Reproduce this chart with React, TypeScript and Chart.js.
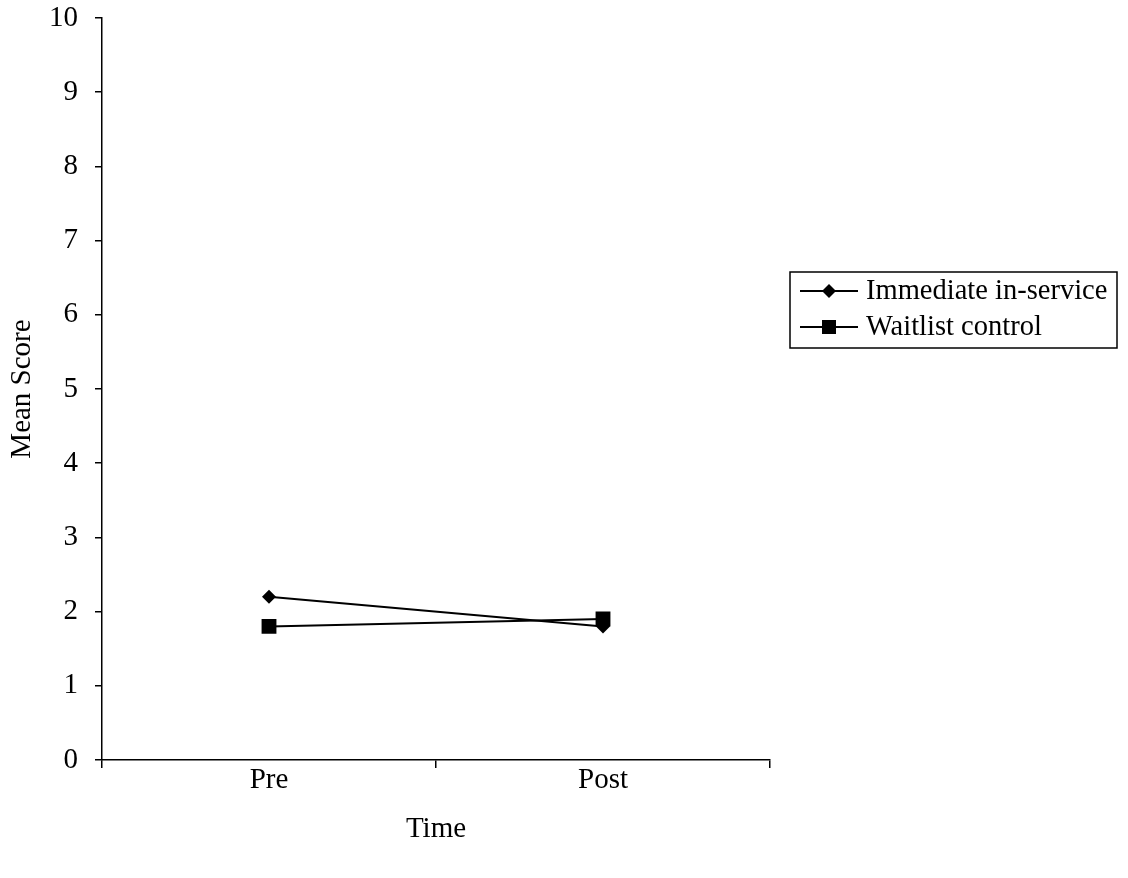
import React, { useEffect, useRef } from "react";
import { Chart, registerables } from "chart.js";

Chart.register(...registerables);

const categories = ["Pre", "Post"];
const immediateValues = [2.2, 1.8];
const waitlistValues = [1.8, 1.9];
const seriesLabels = ["Immediate in-service", "Waitlist control"];
const yTicks = [0, 1, 2, 3, 4, 5, 6, 7, 8, 9, 10];

const FONT = "'Liberation Serif', 'Times New Roman', serif";
const FS = 29;

const boxLegend = {
  id: "boxLegend",
  afterDraw(chart: any) {
    const ctx = chart.ctx;
    const x0 = 790, y0 = 272, x1 = 1117, y1 = 348;
    ctx.save();
    ctx.strokeStyle = "#000";
    ctx.lineWidth = 1.5;
    ctx.strokeRect(x0, y0, x1 - x0, y1 - y0);
    ctx.font = `28.5px ${FONT}`;
    ctx.fillStyle = "#000";
    ctx.textBaseline = "middle";
    ctx.textAlign = "left";
    const rows = [291, 327];
    chart.data.datasets.forEach((ds: any, i: number) => {
      const y = rows[i];
      ctx.beginPath();
      ctx.lineWidth = 2;
      ctx.moveTo(800, y);
      ctx.lineTo(858, y);
      ctx.stroke();
      ctx.beginPath();
      if (ds.pointStyle === "rectRot") {
        const r = 7;
        ctx.moveTo(829, y - r);
        ctx.lineTo(829 + r, y);
        ctx.lineTo(829, y + r);
        ctx.lineTo(829 - r, y);
        ctx.closePath();
      } else {
        const s = 7;
        ctx.rect(829 - s, y - s, 2 * s, 2 * s);
      }
      ctx.fill();
      ctx.fillText(ds.label, 866, y + 1);
    });
    ctx.restore();
  },
};

export default function App() {
  const ref = useRef<HTMLCanvasElement | null>(null);
  useEffect(() => {
    if (!ref.current) return;
    const chart = new Chart(ref.current, {
      type: "line",
      data: {
        labels: categories,
        datasets: [
          {
            label: seriesLabels[0],
            data: immediateValues,
            borderColor: "#000",
            backgroundColor: "#000",
            borderWidth: 2,
            pointStyle: "rectRot",
            pointRadius: 7,
            pointBorderWidth: 0,
            tension: 0,
          },
          {
            label: seriesLabels[1],
            data: waitlistValues,
            borderColor: "#000",
            backgroundColor: "#000",
            borderWidth: 2,
            pointStyle: "rect",
            pointRadius: 10.5,
            pointBorderWidth: 0,
            tension: 0,
          },
        ],
      },
      options: {
        animation: false,
        responsive: false,
        maintainAspectRatio: false,
        layout: { padding: { left: 0, top: 18, right: 358, bottom: 0 } },
        plugins: {
          legend: { display: false },
          tooltip: { enabled: false },
        },
        scales: {
          x: {
            type: "category",
            offset: true,
            grid: {
              display: true,
              offset: true,
              drawOnChartArea: false,
              drawTicks: true,
              tickLength: 8,
              color: "#000",
              lineWidth: 1.5,
            },
            border: { display: true, color: "#000", width: 1.5 },
            ticks: { color: "#000", font: { family: FONT, size: FS }, padding: -5 },
            title: {
              display: true,
              text: "Time",
              color: "#000",
              font: { family: FONT, size: FS },
              padding: { top: 0, bottom: 31 },
            },
            afterFit: (s: any) => {
              s.height = 118;
              s.paddingLeft = 0;
              s.paddingRight = 0;
            },
          },
          y: {
            min: 0,
            max: 10,
            afterBuildTicks: (s: any) => {
              s.ticks = yTicks.map((v) => ({ value: v }));
            },
            grid: {
              display: true,
              drawOnChartArea: false,
              drawTicks: true,
              tickLength: 7,
              color: "#000",
              lineWidth: 1.5,
            },
            border: { display: true, color: "#000", width: 1.5 },
            ticks: { color: "#000", font: { family: FONT, size: FS }, padding: 17 },
            title: {
              display: true,
              text: "Mean Score",
              color: "#000",
              font: { family: FONT, size: FS },
              padding: { top: 5, bottom: 0 },
            },
            afterFit: (s: any) => {
              s.width = 102;
              s.paddingTop = 0;
              s.paddingBottom = 0;
            },
          },
        },
      },
      plugins: [boxLegend],
    });
    return () => chart.destroy();
  }, []);
  return (
    <div style={{ position: "absolute", left: 0, top: 0, width: 1128, height: 878, background: "#fff" }}>
      <canvas ref={ref} width={1128} height={878} style={{ display: "block" }} />
    </div>
  );
}
